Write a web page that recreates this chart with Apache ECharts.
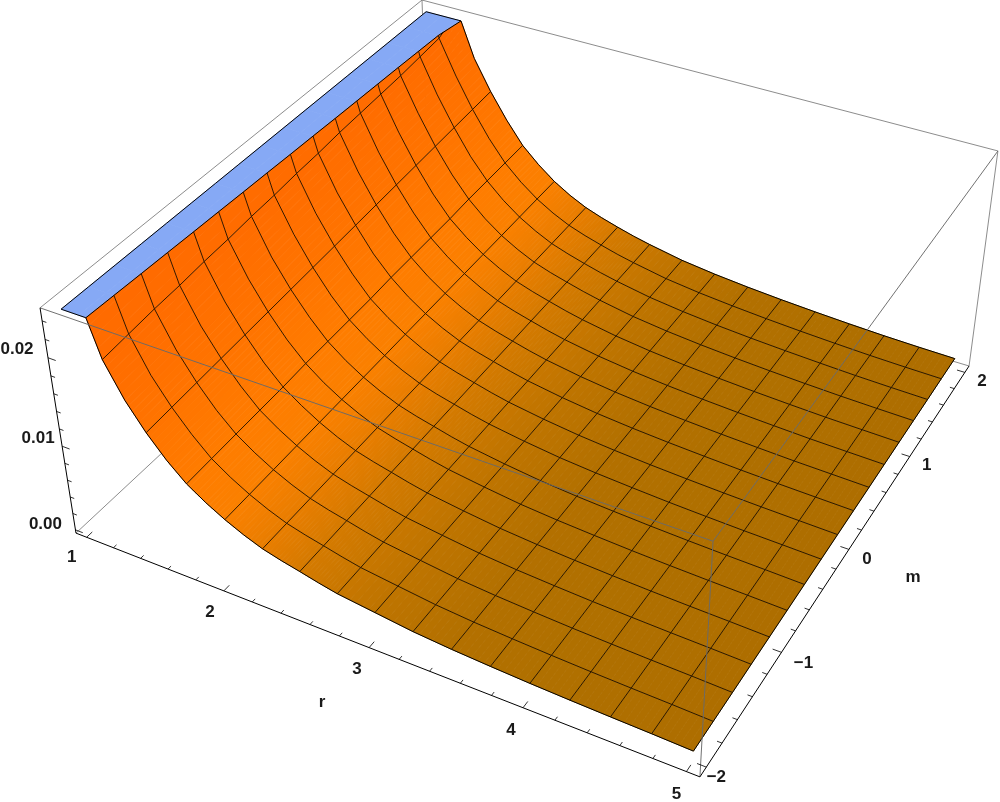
<!DOCTYPE html>
<html><head><meta charset="utf-8"><style>html,body{margin:0;background:#fff}#c{width:1000px;height:802px}</style>
<script src="https://cdn.jsdelivr.net/npm/echarts@6/dist/echarts.min.js"></script></head><body><div id="c"></div><script>
// ---------- data ----------
const rSamples=[1,1.125,1.25,1.375,1.5,1.625,1.75,1.875,2,2.125,2.25,2.375,2.5,2.625,2.75,3,3.25,3.5,3.75,4,4.25,4.5,4.75,5];
const mSamples=[-2,-1.75,-1.5,-1.25,-1,-0.75,-0.5,-0.25,0,0.25,0.5,0.75,1,1.25,1.5,1.75,2];
// surface height, in units of 1e-4, one row per r, one column per m
const zRows=[
[365,368,372,375,378,382,385,388,392,395,398,402,405,408,412,415,420],
[275,278,281,284,287,290,293,296,299,302,305,308,311,314,318,322,330],
[208,211,214,216,219,221,224,226,229,231,234,236,238,240,243,246,260],
[170,172,175,177,180,182,184,187,189,191,194,196,199,201,203,206,208],
[141,143,145,147,149,151,153,155,157,159,161,163,165,167,169,171,173],
[117,119,120,122,123,125,127,128,130,131,133,135,136,138,139,141,143],
[97.5,98.7,99.9,101,102,104,105,106,107,109,110,111,112,114,115,116,117],
[83.4,84.3,85.3,86.2,87.2,88.1,89,90,90.9,91.9,92.8,93.8,94.7,95.6,96.6,97.5,98.5],
[71.5,72.2,72.9,73.7,74.4,75.1,75.8,76.5,77.3,78,78.7,79.4,80.1,80.8,81.6,82.3,83],
[61.5,62.1,62.7,63.3,63.9,64.5,65.1,65.7,66.3,66.9,67.5,68.1,68.7,69.3,69.9,70.4,71],
[53.2,53.7,54.2,54.7,55.2,55.7,56.2,56.7,57.2,57.7,58.2,58.7,59.2,59.7,60.2,60.8,61.3],
[47.5,47.9,48.3,48.8,49.2,49.6,50,50.4,50.9,51.3,51.7,52.1,52.5,52.9,53.4,53.8,54.2],
[42.7,43,43.4,43.7,44.1,44.4,44.8,45.1,45.5,45.8,46.1,46.5,46.8,47.2,47.5,47.9,48.2],
[37.6,37.9,38.2,38.6,38.9,39.2,39.5,39.8,40.2,40.5,40.8,41.1,41.4,41.8,42.1,42.4,42.7],
[33.1,33.4,33.7,34,34.4,34.7,35,35.3,35.6,35.9,36.2,36.5,36.8,37.2,37.5,37.8,38.1],
[27.7,27.9,28,28.2,28.3,28.5,28.6,28.8,29,29.1,29.3,29.4,29.6,29.7,29.9,30,30.2],
[22.3,22.5,22.6,22.8,23,23.1,23.3,23.5,23.7,23.8,24,24.2,24.3,24.5,24.7,24.8,25],
[18.8,18.9,19.1,19.2,19.4,19.5,19.6,19.8,19.9,20,20.2,20.3,20.4,20.6,20.7,20.9,21],
[16.3,16.4,16.5,16.6,16.7,16.8,16.9,17,17,17.1,17.2,17.3,17.4,17.5,17.6,17.7,17.8],
[14.2,14.3,14.3,14.4,14.5,14.5,14.6,14.6,14.7,14.8,14.8,14.9,14.9,15,15.1,15.1,15.2],
[12.6,12.6,12.7,12.7,12.7,12.7,12.8,12.8,12.8,12.8,12.9,12.9,12.9,12.9,13,13,13],
[11.3,11.3,11.3,11.3,11.3,11.3,11.3,11.3,11.3,11.3,11.2,11.2,11.2,11.2,11.2,11.2,11.2],
[10.2,10.2,10.2,10.2,10.2,10.2,10.2,10.2,10.1,10.1,10.1,10.1,10.1,10,10,10,10],
[8.8,8.8,8.8,8.9,8.9,8.9,8.9,9,9,9,9,9.1,9.1,9.1,9.1,9.2,9.2]
];
const rMesh=[1.25,1.5,1.75,2,2.25,2.5,2.75,3,3.25,3.5,3.75,4,4.25,4.5,4.75];
const mMesh=[-1.75,-1.5,-1.25,-1,-0.75,-0.5,-0.25,0,0.25,0.5,0.75,1,1.25,1.5,1.75];
const rTicks=[1,1.2,1.4,1.6,1.8,2,2.2,2.4,2.6,2.8,3,3.2,3.4,3.6,3.8,4,4.2,4.4,4.6,4.8,5];
const mTicks=[-2,-1.8,-1.6,-1.4,-1.2,-1,-0.8,-0.6,-0.4,-0.2,0,0.2,0.4,0.6,0.8,1,1.2,1.4,1.6,1.8,2];
const zTicks=[0,0.002,0.004,0.006,0.008,0.01,0.012,0.014,0.016,0.018,0.02,0.022,0.024];
const rLabels=[1,2,3,4,5];
const mLabels=[-2,-1,0,1,2];
const zLabels=[0,0.01,0.02];
const zClip=0.0249;
// ---------- view ----------
const rBox=[0.92,5.08], mBox=[-2.08,2.08], zBox=[-0.0004,0.0254];
const camera=[[544.11,444.86,-38.777,75.982],[155.15,-286.02,-247.02,533.10],[-0.11407,0.21303,-0.070664,1]];
const shadeStops=[[1,'#ff6800'],[1.25,'#ff6c00'],[1.5,'#ff7400'],[1.75,'#ff7c00'],[2,'#fa8000'],[2.25,'#e87d00'],[2.5,'#d57a00'],[2.75,'#c87700'],[3,'#be7400'],[3.25,'#b87200'],[3.5,'#b37000'],[4,'#b07000'],[5,'#ae6e00']];
const shadeBands=6;
const labelFont={fontFamily:'Liberation Sans',fontSize:17,fontWeight:'bold',fill:'#1a1a1a',align:'center',verticalAlign:'middle'};
const rLabelShift=[[-15,20],[-14,21],[-12,22],[-12,23],[-10,23]];
const mLabelShift=[[10,10],[22,11],[18,10],[17,9],[17,9]];
const zLabelShift=[[-30,-6],[-24,-8],[-31,-8]];
// ---------- helpers ----------
function project(p){
  const u=(p[0]-rBox[0])/(rBox[1]-rBox[0]), v=(p[1]-mBox[0])/(mBox[1]-mBox[0]), w=(p[2]-zBox[0])/(zBox[1]-zBox[0]);
  const h=camera.map(c=>c[0]*u+c[1]*v+c[2]*w+c[3]);
  return [h[0]/h[2],h[1]/h[2]];
}
const Z=(i,j)=>zRows[i][j]/1e4;
const hexToRgb=h=>[1,3,5].map(k=>parseInt(h.substr(k,2),16));
function shade(r){
  for(let i=1;i<shadeStops.length;i++){
    if(r<=shadeStops[i][0]){
      const [a,ca]=shadeStops[i-1],[b,cb]=shadeStops[i],t=(r-a)/(b-a);
      const A=hexToRgb(ca),B=hexToRgb(cb);
      return 'rgb('+A.map((x,k)=>Math.round(x+(B[k]-x)*t)).join(',')+')';
    }
  }
  return shadeStops[shadeStops.length-1][1];
}
function clip(poly,below){
  const inside=p=>below?p[2]<=zClip:p[2]>=zClip, out=[];
  poly.forEach((a,i)=>{
    const b=poly[(i+1)%poly.length];
    if(inside(a))out.push(a);
    if(inside(a)!==inside(b)){
      const t=(zClip-a[2])/(b[2]-a[2]);
      out.push([a[0]+(b[0]-a[0])*t,a[1]+(b[1]-a[1])*t,zClip]);
    }
  });
  return out;
}
// piece of a polyline that lies at or below the clip height
function belowPieces(pts){
  const res=[];let cur=[];
  for(let i=0;i<pts.length;i++){
    const a=pts[i];
    if(a[2]<=zClip)cur.push(a);
    const b=pts[i+1];
    if(b&&(a[2]<=zClip)!==(b[2]<=zClip)){
      const t=(zClip-a[2])/(b[2]-a[2]),q=[a[0]+(b[0]-a[0])*t,a[1]+(b[1]-a[1])*t,zClip];
      cur.push(q);
      if(a[2]<=zClip){res.push(cur);cur=[];}
    }
  }
  if(cur.length>1)res.push(cur);
  return res;
}
function rowAt(r){return rSamples.indexOf(r);}
function colAt(m){return mSamples.indexOf(m);}
const rLine=r=>mSamples.map((m,j)=>[r,m,Z(rowAt(r),j)]);
const mLine=m=>rSamples.map((r,i)=>[r,m,Z(i,colAt(m))]);
function clipCrossing(j){
  for(let i=0;i<rSamples.length-1;i++){
    if(Z(i,j)>=zClip&&Z(i+1,j)<zClip){
      const t=(zClip-Z(i,j))/(Z(i+1,j)-Z(i,j));
      return [rSamples[i]+(rSamples[i+1]-rSamples[i])*t,mSamples[j],zClip];
    }
  }
  return [rSamples[0],mSamples[j],zClip];
}
function layer(name,items,draw,z){
  return {type:'custom',name,coordinateSystem:'cartesian2d',clip:false,silent:true,z,encode:{x:0,y:1},
    data:items.map((_,i)=>[i,0]),
    renderItem:(params,api)=>{
      const c=p=>api.coord(project(p));
      return draw(items[api.value(0)],c);
    }};
}
const line=(pts,c,stroke,w)=>({type:'polyline',shape:{points:pts.map(c)},style:{fill:null,stroke,lineWidth:w}});
// ---------- layers ----------
const grey='#6f6f6f';
const cornerA=[rBox[0],mBox[0],zBox[0]],cornerB=[rBox[1],mBox[0],zBox[0]],cornerC=[rBox[1],mBox[1],zBox[0]],cornerD=[rBox[0],mBox[1],zBox[0]];
const cornerE=[rBox[0],mBox[0],zBox[1]],cornerF=[rBox[1],mBox[0],zBox[1]],cornerG=[rBox[1],mBox[1],zBox[1]],cornerH=[rBox[0],mBox[1],zBox[1]];
const backEdges=[[cornerA,cornerD],[cornerC,cornerD],[cornerH,cornerD],[cornerE,cornerH],[cornerH,cornerG],[cornerG,cornerC]];
const frontEdges=[[cornerE,cornerF],[cornerF,cornerG],[cornerF,cornerB]];
const axisEdges=[[cornerA,cornerB],[cornerB,cornerC],[cornerA,cornerE]];
const cells=[];
for(let i=0;i<rSamples.length-1;i++)for(let j=0;j<mSamples.length-1;j++)cells.push([i,j]);
const cellPoly=([i,j])=>[[rSamples[i],mSamples[j],Z(i,j)],[rSamples[i+1],mSamples[j],Z(i+1,j)],[rSamples[i+1],mSamples[j+1],Z(i+1,j+1)],[rSamples[i],mSamples[j+1],Z(i,j+1)]];
const blueSeries=layer('clipped top',cells,(cell,c)=>{
  const poly=clip(cellPoly(cell),false).map(p=>[p[0],p[1],zClip]);
  if(poly.length<3)return {type:'group',children:[]};
  return {type:'polygon',shape:{points:poly.map(c)},style:{fill:'#86a9f5',stroke:'#86a9f5',lineWidth:0.8}};
},2);
// each cell is painted as thin bands across m so the colour moves smoothly with r
const surfaceSeries=layer('surface',cells,(cell,c)=>{
  const [i,j]=cell,children=[];
  const at=(jj,t)=>[rSamples[i]+(rSamples[i+1]-rSamples[i])*t,mSamples[jj],Z(i,jj)+(Z(i+1,jj)-Z(i,jj))*t];
  for(let k=0;k<shadeBands;k++){
    const t0=k/shadeBands,t1=(k+1)/shadeBands;
    const poly=clip([at(j,t0),at(j,t1),at(j+1,t1),at(j+1,t0)],true);
    if(poly.length<3)continue;
    const col=shade(rSamples[i]+(rSamples[i+1]-rSamples[i])*(t0+t1)/2);
    children.push({type:'polygon',shape:{points:poly.map(c)},style:{fill:col,stroke:col,lineWidth:0.8}});
  }
  return {type:'group',children};
},3);
const meshPieces=[].concat(rMesh.map(rLine),mMesh.map(mLine)).flatMap(belowPieces);
const boundary=[].concat(
  belowPieces(mLine(-2)),belowPieces(mLine(2)),[rLine(5)],
  [mSamples.map((_,j)=>clipCrossing(j))],
  [mSamples.map(m=>[1,m,zClip])],
  [[[1,-2,zClip],clipCrossing(0)]],[[[1,2,zClip],clipCrossing(mSamples.length-1)]]);
const axisTicks=[].concat(
  rTicks.map(r=>{const big=Number.isInteger(r);return [[r,mBox[0],zBox[0]],[r,mBox[0]+(big?0.055:0.03),zBox[0]]];}),
  mTicks.map(m=>{const big=Number.isInteger(m);return [[rBox[1],m,zBox[0]],[rBox[1]-(big?0.055:0.03),m,zBox[0]]];}),
  zTicks.map(z=>{const big=Math.abs(z*100-Math.round(z*100))<1e-9;return [[rBox[0],mBox[0],z],[rBox[0]+(big?0.055:0.03),mBox[0],z]];}));
const texts=[].concat(
  rLabels.map((r,i)=>({t:String(r),p:[r,mBox[0],zBox[0]],s:rLabelShift[i]})),
  mLabels.map((m,i)=>({t:(m<0?'\u2212':'')+Math.abs(m),p:[rBox[1],m,zBox[0]],s:mLabelShift[i]})),
  zLabels.map((z,i)=>({t:z.toFixed(2),p:[rBox[0],mBox[0],z],s:zLabelShift[i]})),
  [{t:'r',p:[3,mBox[0],zBox[0]],s:[-47,55]},{t:'m',p:[rBox[1],0,zBox[0]],s:[64,28]}]);
const option={animation:false,backgroundColor:'#fff',
  grid:{left:0,right:0,top:0,bottom:0},
  xAxis:{type:'value',min:0,max:1000,show:false},
  yAxis:{type:'value',min:0,max:802,inverse:true,show:false},
  series:[
    layer('back box',backEdges,(e,c)=>line(e,c,grey,0.8),1),
    blueSeries,surfaceSeries,
    layer('mesh',meshPieces,(p,c)=>line(p,c,'#1c0f00',0.9),4),
    layer('boundary',boundary,(p,c)=>line(p,c,'#000',1),5),
    layer('front box',frontEdges,(e,c)=>line(e,c,'rgba(105,105,105,0.95)',1),6),
    layer('axes',axisEdges,(e,c)=>line(e,c,'#000',1),7),
    layer('ticks',axisTicks,(e,c)=>line(e,c,'#000',0.8),7),
    layer('labels',texts,(o,c)=>{const q=c(o.p);return {type:'text',x:q[0]+o.s[0],y:q[1]+o.s[1],style:Object.assign({text:o.t},labelFont)};},8)
  ]};
echarts.init(document.getElementById('c')).setOption(option);
</script></body></html>
